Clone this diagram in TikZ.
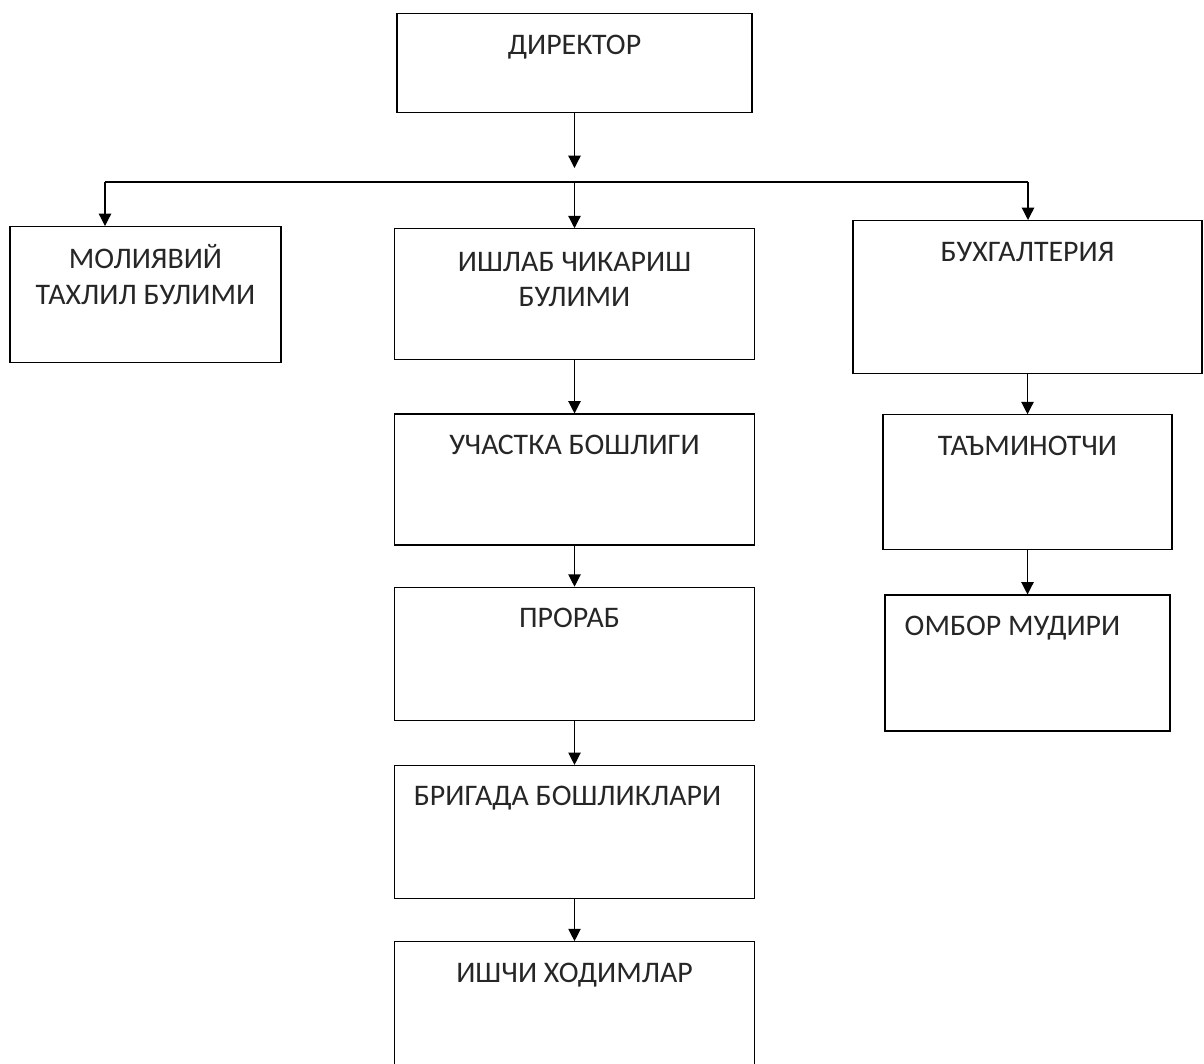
\documentclass[tikz,border=0pt]{standalone}
\usepackage{fontspec}
\setmainfont{Carlito}
\usetikzlibrary{arrows.meta, positioning}

\begin{document}
\begin{tikzpicture}[
            box/.style={draw, line width=0.7pt, inner sep=0pt, minimum width=7.2cm, minimum height=2.66cm},
            caption/.style={anchor=base, inner sep=0pt, yshift=-0.82cm, text=black!85, font=\fontsize{17}{20}\selectfont},
            twoline/.style={caption, align=center, yshift=-0.74cm},
            link/.style={draw, line width=0.7pt, -{Triangle[length=7pt, width=7pt]}},
            bus/.style={draw, line width=0.7pt}
        ]

            \useasboundingbox (0,0) rectangle (24.08,-21.26);
            \clip (0,0) rectangle (24.08,-21.26);

            % Director
            \node[box, minimum width=7.1cm, minimum height=1.98cm, anchor=north, label={[caption]north:ДИРЕКТОР}] (dir) at (11.49,-0.26) {};

            % Departments
            \node[box, minimum width=5.42cm, minimum height=2.72cm, anchor=north, label={[twoline]north:МОЛИЯВИЙ\\ТАХЛИЛ БУЛИМИ}] (fin) at (2.91,-4.52) {};
            \node[box, below=2.3cm of dir, minimum height=2.62cm, label={[twoline]north:ИШЛАБ ЧИКАРИШ\\БУЛИМИ}] (prod) {};
            \node[box, minimum width=6.98cm, minimum height=3.06cm, anchor=north, label={[caption]north:БУХГАЛТЕРИЯ}] (acc) at (20.55,-4.4) {};

            % Production chain
            \node[box, below=1.06cm of prod, minimum height=2.62cm, label={[caption]north:УЧАСТКА БОШЛИГИ}] (site) {};
            \node[box, below=0.82cm of site, label={[caption, xshift=-0.1cm]north:ПРОРАБ}] (foreman) {};
            \node[box, below=0.88cm of foreman, label={[caption, xshift=-0.14cm]north:БРИГАДА БОШЛИКЛАРИ}] (brig) {};
            \node[box, below=0.84cm of brig, minimum height=3.2cm, label={[caption]north:ИШЧИ ХОДИМЛАР}] (staff) {};

            % Accounting chain
            \node[box, below=0.8cm of acc, minimum width=5.78cm, minimum height=2.7cm, label={[caption]north:ТАЪМИНОТЧИ}] (supply) {};
            \node[box, below=0.88cm of supply, minimum width=5.7cm, minimum height=2.72cm, label={[caption, xshift=-0.3cm]north:ОМБОР МУДИРИ}] (store) {};

            % Bus line under the director
            \coordinate (busL) at (2.1,-3.64);
            \coordinate (busR) at (20.56,-3.64);
            \draw[link] (dir.south) -- ([yshift=0.28cm]dir.south |- busL);
            \draw[bus] (busL) -- (busR);
            \draw[link] (busL) -- (busL |- fin.north);
            \draw[link] (prod.north |- busL) -- (prod.north);
            \draw[link] (busR) -- (busR |- acc.north);

            % Arrows down the columns
            \draw[link] (prod) -- (site);
            \draw[link] (site) -- (foreman);
            \draw[link] (foreman) -- (brig);
            \draw[link] (brig) -- (staff);
            \draw[link] (acc) -- (supply);
            \draw[link] (supply) -- (store);

        \end{tikzpicture}
\end{document}
